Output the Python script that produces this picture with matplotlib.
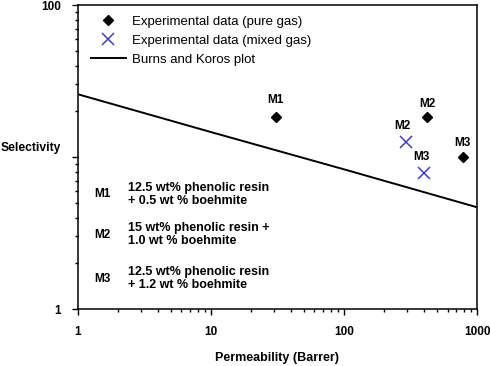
import matplotlib
matplotlib.use("Agg")
from matplotlib import pyplot as plt
from matplotlib.ticker import FixedLocator, LogLocator, NullFormatter

# data
pure_perm = [30.8, 421, 780]
pure_sel = [18.4, 18.2, 9.95]
pure_names = ["M1", "M2", "M3"]

mixed_perm = [290, 397]
mixed_sel = [12.6, 7.9]
mixed_names = ["M2", "M3"]

bk_perm = [1, 10, 100, 1000]
bk_sel = [25.9, 14.6, 8.3, 4.67]

membranes = ["M1", "M2", "M3"]
recipes = [
    "12.5 wt% phenolic resin\n+ 0.5 wt % boehmite",
    "15 wt% phenolic resin +\n1.0 wt % boehmite",
    "12.5 wt% phenolic resin\n+ 1.2 wt % boehmite",
]

plt.rcParams["font.family"] = ["Liberation Sans", "DejaVu Sans"]

fig = plt.figure(figsize=(4.9, 3.66), dpi=100)
ax = fig.add_axes([0.1586, 0.1557, 0.815, 0.8306])

ax.plot(pure_perm, pure_sel, linestyle="none", marker="D", markersize=5.5,
        color="black", label="Experimental data (pure gas)")
ax.plot(mixed_perm, mixed_sel, linestyle="none", marker="x", markersize=8,
        markeredgewidth=1.1, color="#3b3bd6", label="Experimental data (mixed gas)")
ax.plot(bk_perm, bk_sel, color="black", linewidth=1.4, label="Burns and Koros plot")

# labels over the points
pure_offsets = [(0, 12), (0, 10), (0, 10)]
for x, y, name, off in zip(pure_perm, pure_sel, pure_names, pure_offsets):
    ax.annotate(name, (x, y), xytext=off, textcoords="offset points",
                ha="center", va="center", fontsize=8.5, fontweight="bold")
for x, y, name in zip(mixed_perm, mixed_sel, mixed_names):
    ax.annotate(name, (x, y), xytext=(-2, 11), textcoords="offset points",
                ha="center", va="center", fontsize=8.5, fontweight="bold")

ax.set_xscale("log")
ax.set_yscale("log")
ax.set_xlim(1, 1000)
ax.set_ylim(1, 100)

ax.xaxis.set_major_locator(FixedLocator([1, 10, 100, 1000]))
ax.set_xticklabels(["1", "10", "100", "1000"])
ax.yaxis.set_major_locator(FixedLocator([1, 10, 100]))
ax.set_yticklabels(["1", "", "100"])
ax.xaxis.set_minor_locator(LogLocator(base=10, subs=range(2, 10)))
ax.yaxis.set_minor_locator(LogLocator(base=10, subs=range(2, 10)))
ax.xaxis.set_minor_formatter(NullFormatter())
ax.yaxis.set_minor_formatter(NullFormatter())

ax.tick_params(which="major", length=4, width=1, pad=8, labelsize=8.5)
ax.tick_params(which="minor", length=2.5, width=1)
for lab in ax.get_xticklabels() + ax.get_yticklabels():
    lab.set_fontweight("bold")
for sp in ax.spines.values():
    sp.set_linewidth(1.1)

ax.set_xlabel("Permeability (Barrer)", fontsize=9, fontweight="bold", labelpad=10)
ax.text(-0.117, 0.531, "Selectivity", transform=ax.transAxes, ha="center",
        va="center", fontsize=8.7, fontweight="bold")

# membrane recipe notes
note_y = [0.378, 0.245, 0.100]
for name, recipe, y in zip(membranes, recipes, note_y):
    ax.text(0.063, y, name, transform=ax.transAxes, ha="center", va="center",
            fontsize=8.5, fontweight="bold")
    ax.text(0.126, y, recipe, transform=ax.transAxes, ha="left", va="center",
            fontsize=9, fontweight="bold", linespacing=1.1)

ax.legend(loc="upper left", bbox_to_anchor=(0.033, 0.966), frameon=False,
          fontsize=9.5, borderpad=0, borderaxespad=0, labelspacing=0.52,
          handlelength=2.65, handletextpad=0.5)

fig.savefig("out.png", dpi=100)
